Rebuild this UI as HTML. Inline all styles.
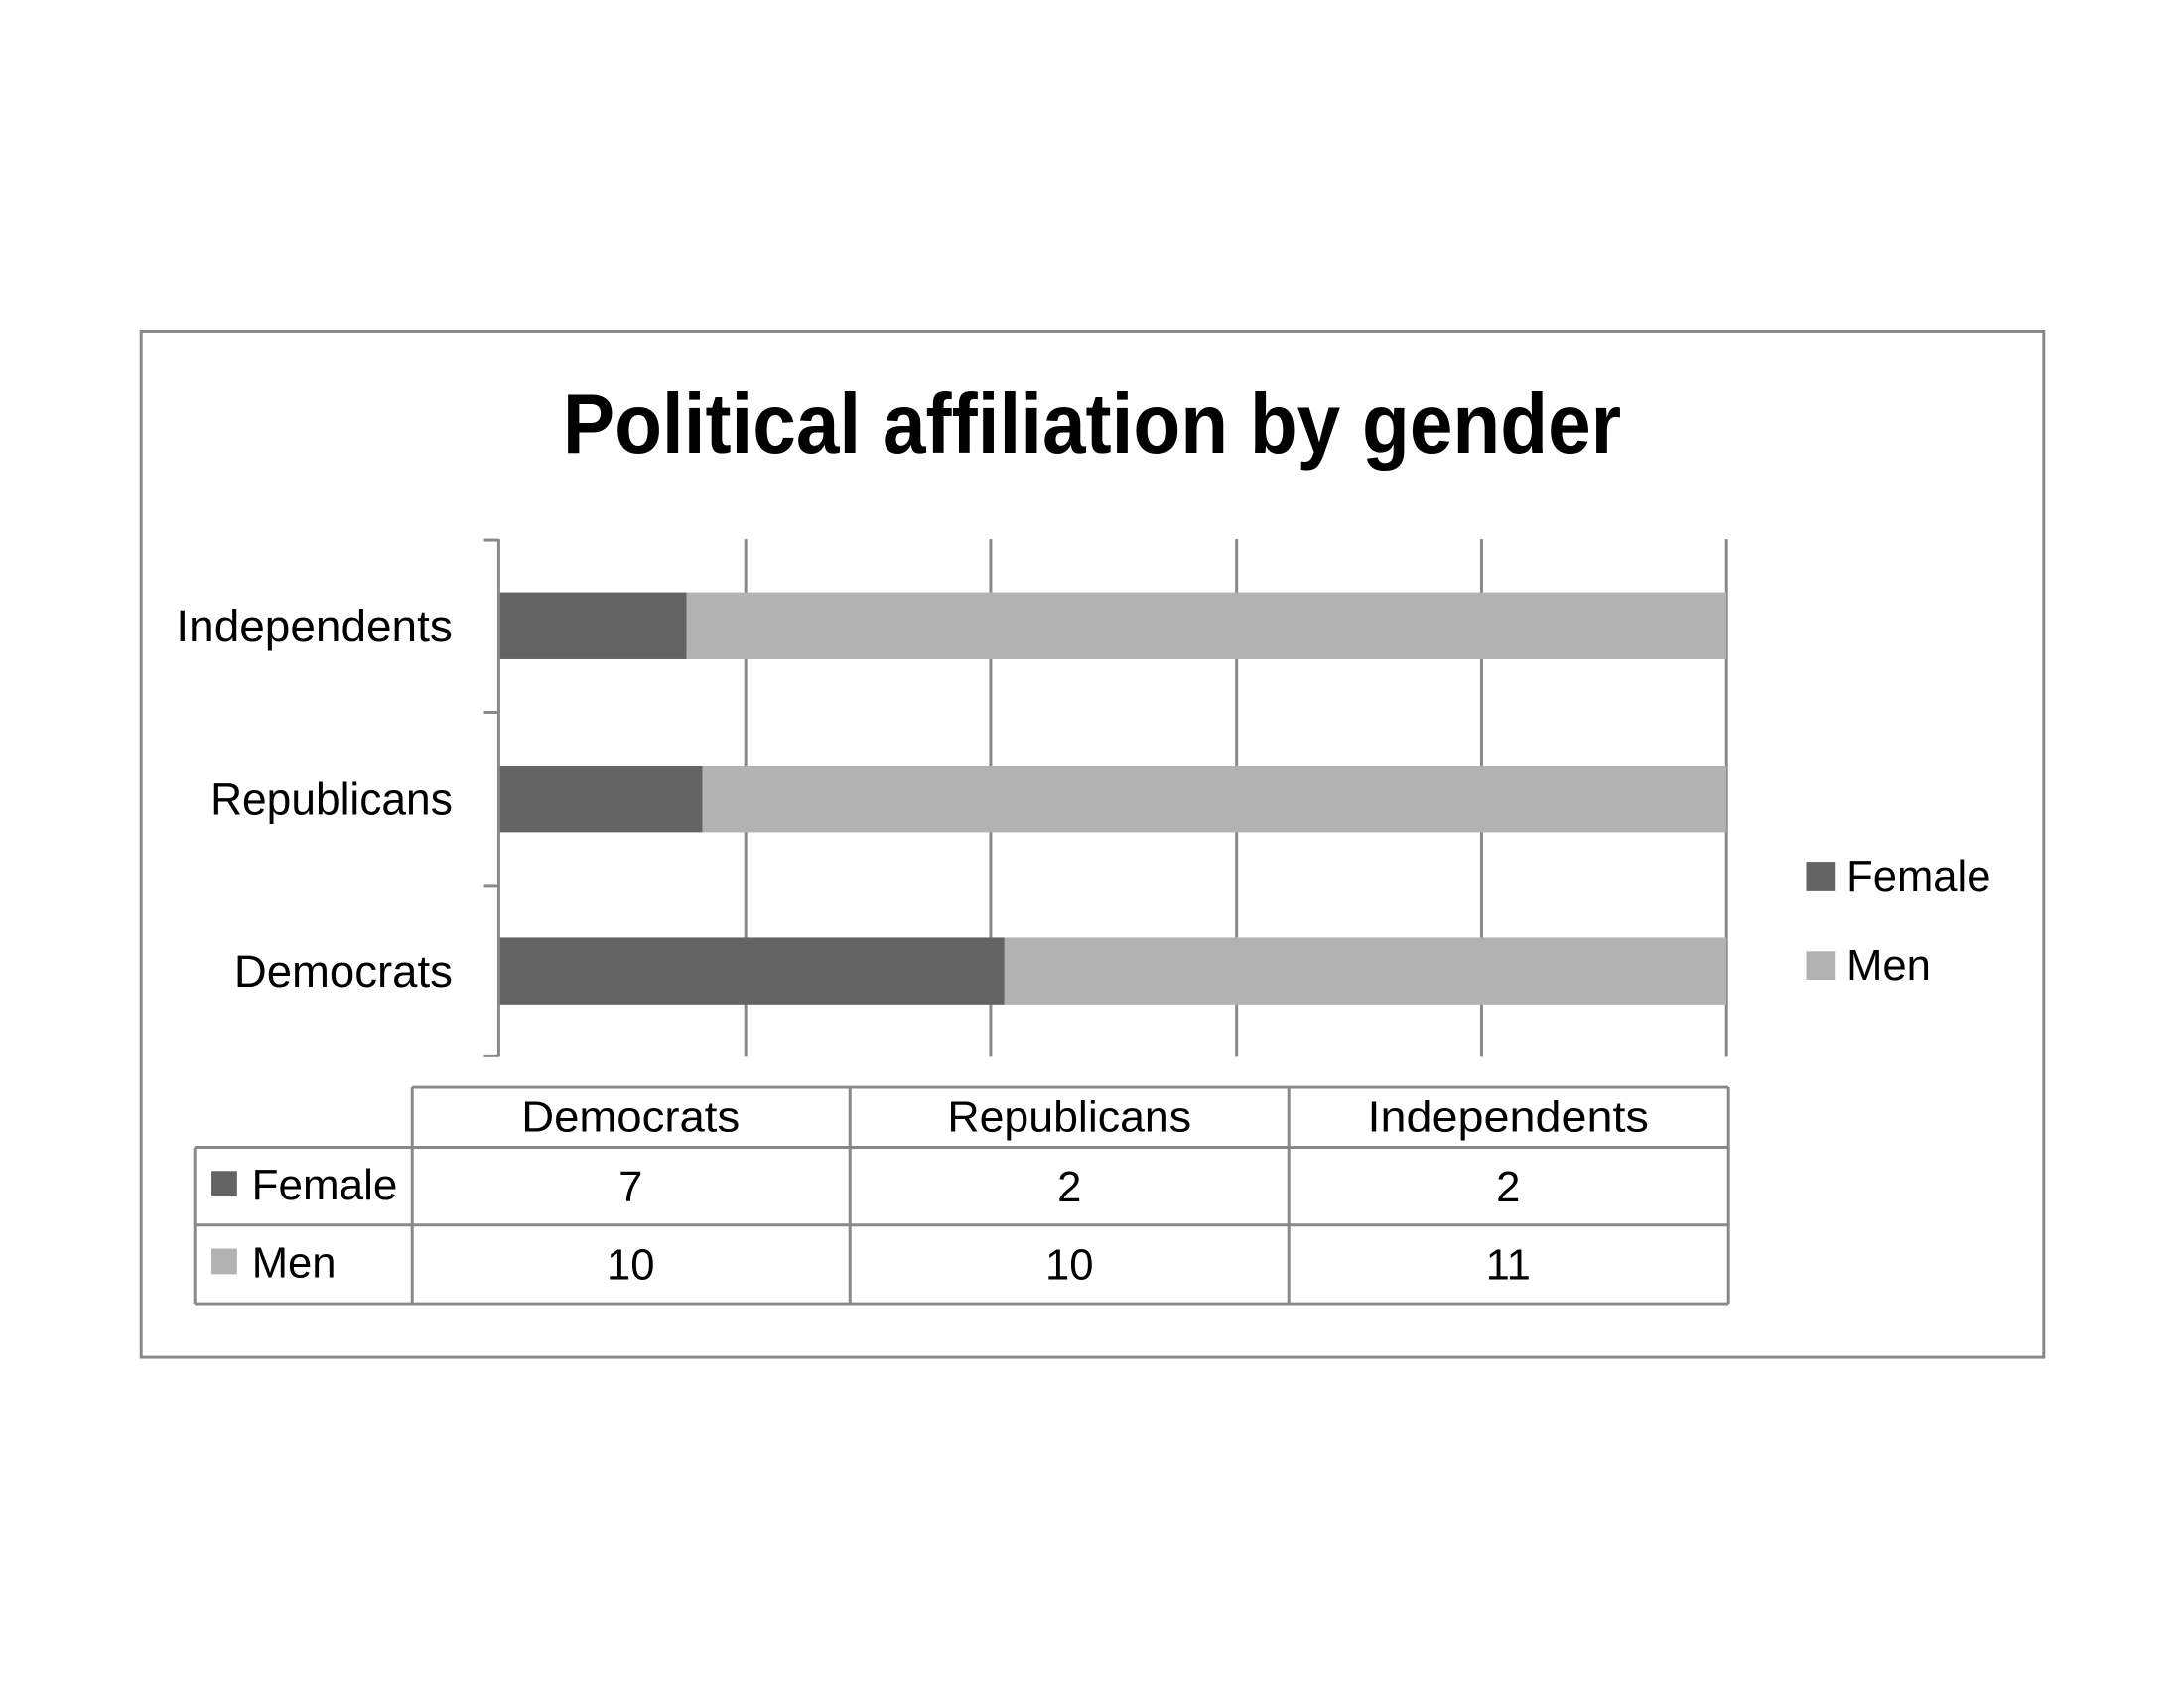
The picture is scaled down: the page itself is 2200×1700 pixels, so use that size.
<!DOCTYPE html>
<html><head><meta charset="utf-8"><style>
html,body{margin:0;padding:0;background:#fff;}
svg{display:block;}
text{font-family:"Liberation Sans",sans-serif;fill:#000;}
</style></head><body>
<svg width="2200" height="1700" viewBox="0 0 2200 1700" xmlns="http://www.w3.org/2000/svg">
<rect x="0" y="0" width="2200" height="1700" fill="#fff"/>
<g transform="scale(0.991)">
<rect x="143.5" y="336.5" width="1934" height="1043" fill="none" stroke="#888" stroke-width="3"/>
<text x="1110" y="460" font-size="86" font-weight="bold" text-anchor="middle" textLength="1076" lengthAdjust="spacingAndGlyphs">Political affiliation by gender</text>
<g stroke="#888" stroke-width="3">
<line x1="758" y1="548" x2="758" y2="1074"/>
<line x1="1007" y1="548" x2="1007" y2="1074"/>
<line x1="1257" y1="548" x2="1257" y2="1074"/>
<line x1="1506" y1="548" x2="1506" y2="1074"/>
<line x1="1755" y1="548" x2="1755" y2="1074"/>
</g>
<rect x="507" y="602" width="191" height="68" fill="#636363"/>
<rect x="698" y="602" width="1057" height="68" fill="#b2b2b2"/>
<rect x="507" y="778" width="207" height="68" fill="#636363"/>
<rect x="714" y="778" width="1041" height="68" fill="#b2b2b2"/>
<rect x="507" y="953" width="514" height="68" fill="#636363"/>
<rect x="1021" y="953" width="734" height="68" fill="#b2b2b2"/>
<g stroke="#888" stroke-width="3">
<line x1="507" y1="548" x2="507" y2="1074"/>
<line x1="492" y1="549" x2="507" y2="549"/>
<line x1="492" y1="724" x2="507" y2="724"/>
<line x1="492" y1="900" x2="507" y2="900"/>
<line x1="492" y1="1073" x2="507" y2="1073"/>
</g>
<g font-size="46" text-anchor="end">
<text x="460" y="652" textLength="281" lengthAdjust="spacingAndGlyphs">Independents</text>
<text x="460" y="828" textLength="246" lengthAdjust="spacingAndGlyphs">Republicans</text>
<text x="460" y="1003" textLength="222" lengthAdjust="spacingAndGlyphs">Democrats</text>
</g>
<rect x="1836" y="876" width="29" height="29" fill="#636363"/>
<rect x="1836" y="967" width="29" height="29" fill="#b2b2b2"/>
<g font-size="44">
<text x="1877" y="905">Female</text>
<text x="1877" y="996">Men</text>
</g>
<g stroke="#888" stroke-width="3" fill="none">
<line x1="419" y1="1105" x2="1757" y2="1105"/>
<line x1="198" y1="1166" x2="1757" y2="1166"/>
<line x1="198" y1="1245" x2="1757" y2="1245"/>
<line x1="198" y1="1325" x2="1757" y2="1325"/>
<line x1="198" y1="1166" x2="198" y2="1325"/>
<line x1="419" y1="1105" x2="419" y2="1325"/>
<line x1="864" y1="1105" x2="864" y2="1325"/>
<line x1="1310" y1="1105" x2="1310" y2="1325"/>
<line x1="1757" y1="1105" x2="1757" y2="1325"/>
</g>
<g font-size="44" text-anchor="middle">
<text x="641" y="1150" textLength="222" lengthAdjust="spacingAndGlyphs">Democrats</text>
<text x="1087" y="1150" textLength="248" lengthAdjust="spacingAndGlyphs">Republicans</text>
<text x="1533" y="1150" textLength="286" lengthAdjust="spacingAndGlyphs">Independents</text>
<text x="641" y="1221">7</text>
<text x="1087" y="1221">2</text>
<text x="1533" y="1221">2</text>
<text x="641" y="1300">10</text>
<text x="1087" y="1300">10</text>
<text x="1533" y="1300">11</text>
</g>
<rect x="215" y="1190" width="26" height="26" fill="#636363"/>
<rect x="215" y="1269" width="26" height="26" fill="#b2b2b2"/>
<g font-size="44">
<text x="256" y="1219" textLength="148" lengthAdjust="spacingAndGlyphs">Female</text>
<text x="256" y="1298">Men</text>
</g>
</g>
</svg>
</body></html>
